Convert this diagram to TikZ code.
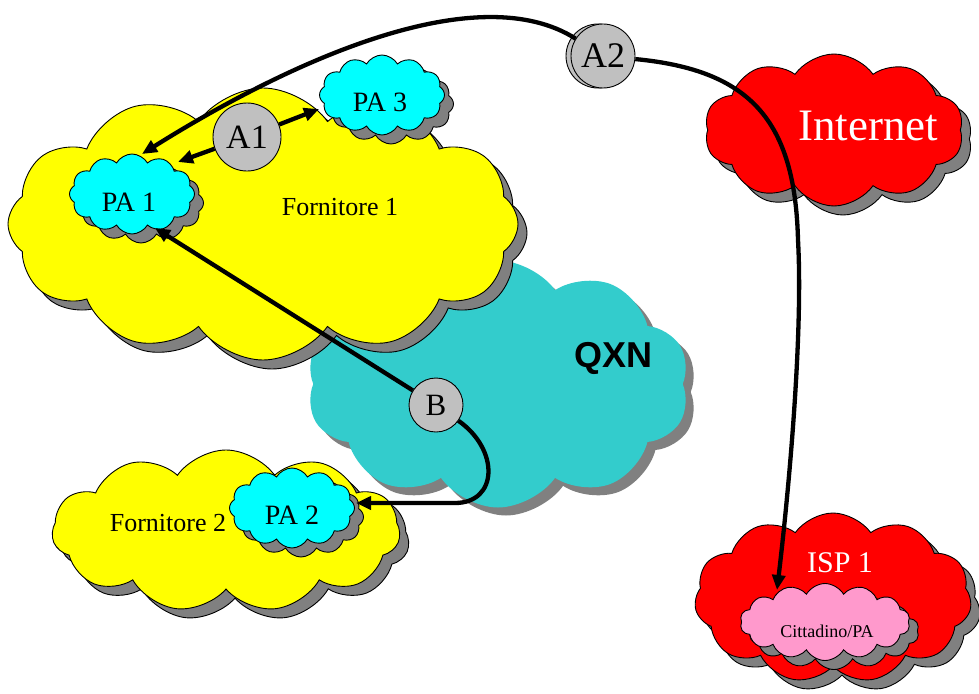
\documentclass[tikz,border=0pt]{standalone}
\usepackage{fontspec}
\setmainfont{Liberation Serif}
\newfontfamily\qxnfont{Liberation Sans}
\usetikzlibrary{shapes.symbols,arrows.meta}

\definecolor{provyellow}{HTML}{FFFF00}
\definecolor{pacyan}{HTML}{00FFFF}
\definecolor{qxnteal}{HTML}{33CCCC}
\definecolor{netred}{HTML}{FF0000}
\definecolor{citpink}{HTML}{FF99CC}
\definecolor{hubgray}{HTML}{C0C0C0}
\definecolor{shadegray}{HTML}{808080}

\begin{document}
\begin{tikzpicture}[x=1pt,y=-1pt,
  cloudbase/.style={cloud, cloud ignores aspect, inner sep=0pt, draw=black, line width=0.9pt},
  shadowed/.style={preaction={fill=shadegray, draw=black, line width=0.9pt,
      transform canvas={shift={(9pt,-9pt)}}}},
  bigcloud/.style={cloudbase, shadowed, cloud puffs=11, cloud puff arc=110},
  smallcloud/.style={cloudbase, shadowed, fill=pacyan, cloud puffs=12, cloud puff arc=120,
      minimum width=125pt, minimum height=80pt},
  hub/.style={circle, draw=black, line width=0.9pt, fill=hubgray, inner sep=0pt},
  link/.style={line width=4.3pt, -{Triangle[length=15pt,width=13pt]}},
  lbl/.style={inner sep=0pt, font=\fontsize{26}{30}\selectfont},
  palbl/.style={inner sep=0pt, font=\fontsize{28}{30}\selectfont}
]
\useasboundingbox[fill=white] (0,0) rectangle (979,693);

% backbone cloud (no outline)
\node[cloud, cloud ignores aspect, inner sep=0pt, cloud puffs=10, cloud puff arc=110,
      fill=qxnteal, minimum width=383pt, minimum height=247pt,
      preaction={fill=shadegray, transform canvas={shift={(8pt,-8pt)}}}] (qxn) at (498,384) {};
\node[inner sep=0pt, font=\qxnfont\bfseries\fontsize{36}{36}\selectfont] (qxnlbl) at (613,358) {QXN};

% provider clouds
\node[bigcloud, fill=provyellow, minimum width=510pt, minimum height=272pt, cloud puffs=12] (forn1) at (263,224) {};
\node[lbl] (forn1lbl) at (340,207) {Fornitore 1};

\node[bigcloud, fill=provyellow, minimum width=348pt, minimum height=162pt] (forn2) at (226,531) {};
\node[lbl] (forn2lbl) at (168,523) {Fornitore 2};

% internet side
\node[bigcloud, fill=netred, minimum width=259pt, minimum height=152pt, cloud puffs=10] (inet) at (834,130) {};
\node[inner sep=0pt, text=white, font=\fontsize{45}{45}\selectfont] (inetlbl) at (868,126) {Internet};

\node[bigcloud, fill=netred, minimum width=277pt, minimum height=170pt, cloud puffs=11] (isp) at (833,598) {};
\node[inner sep=0pt, text=white, font=\fontsize{30}{30}\selectfont] (isplbl) at (840,563) {ISP 1};

\node[cloudbase, shadowed, fill=citpink, cloud puffs=14, cloud puff arc=120,
      minimum width=170pt, minimum height=77pt] (cit) at (825,622) {};
\node[inner sep=0pt, font=\fontsize{18}{18}\selectfont] (citlbl) at (827,631) {Cittadino/PA};

% administrations
\node[smallcloud] (pa1) at (132,194) {};
\node[palbl] (pa1lbl) at (129,202) {PA 1};
\node[smallcloud] (pa3) at (382,95) {};
\node[palbl] (pa3lbl) at (380,102) {PA 3};
\node[smallcloud] (pa2) at (292,508) {};
\node[palbl] (pa2lbl) at (292,515) {PA 2};

% access points
\node[hub, minimum size=68pt, font=\fontsize{34}{34}\selectfont] (A1) at (247,137) {A1};
\node[hub, minimum size=64pt, font=\fontsize{36}{36}\selectfont,
      preaction={fill=hubgray, draw=black, line width=0.9pt, transform canvas={shift={(-5pt,0pt)}}}] (A2) at (603,56) {A2};
\node[hub, minimum size=54pt, font=\fontsize{31}{31}\selectfont] (B) at (436,405) {B};

% arrow targets
\coordinate (tA1pa1) at (178,162);
\coordinate (tA1pa3) at (319,109);
\coordinate (tA2pa1) at (142,154);
\coordinate (tA2cit) at (777,590);
\coordinate (tBpa1) at (155,228);
\coordinate (tBpa2) at (356,503);

% connections
\draw[link] (A1) -- (tA1pa1);
\draw[link] (A1) -- (tA1pa3);
\draw[link] (A2) .. controls (480,-22) and (300,55) .. (tA2pa1);
\draw[link] (A2) .. controls (750,70) and (795,120) .. (798,240)
                 .. controls (803,330) and (790,480) .. (tA2cit);
\draw[link] (B) -- (tBpa1);
\draw[link] (B) .. controls (500,450) and (498,503) .. (455,503) -- (tBpa2);
\end{tikzpicture}
\end{document}
